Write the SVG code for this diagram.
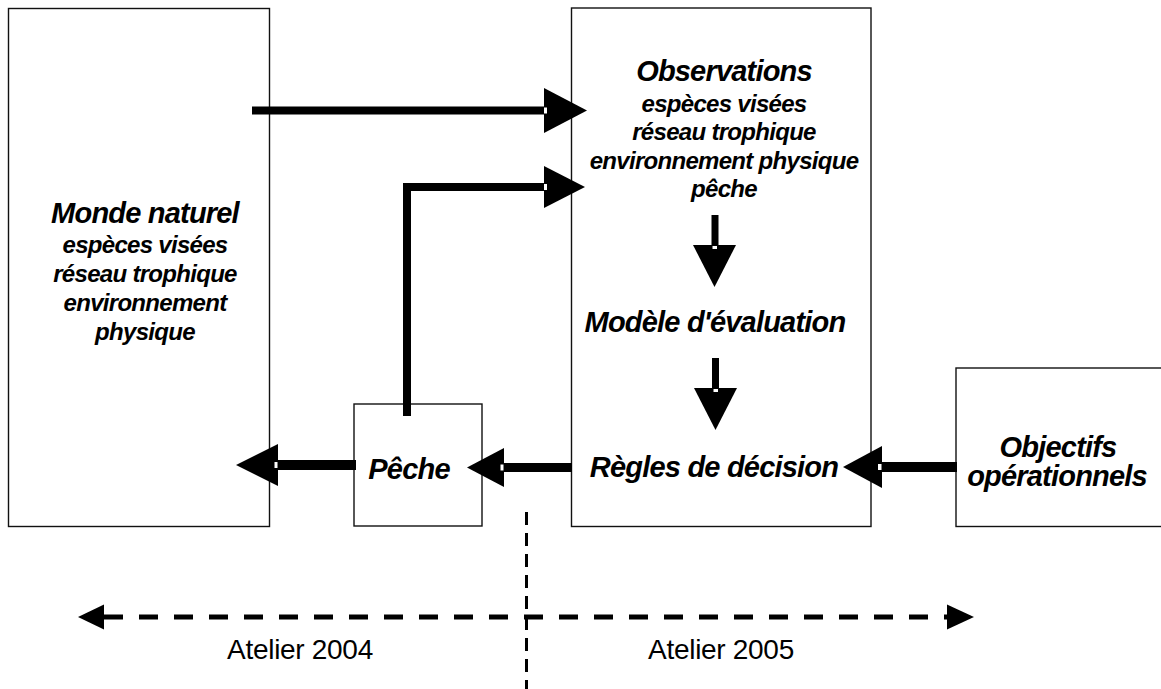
<svg xmlns="http://www.w3.org/2000/svg" width="1161" height="689" viewBox="0 0 1161 689">
<style>
.box{fill:#fff;stroke:#111;stroke-width:1.4}
.t{font-family:"Liberation Sans",Arial,sans-serif;font-weight:bold;font-style:italic;fill:#000;text-anchor:middle}
.h{font-size:29px;letter-spacing:-0.8px}
.s{font-size:24px;letter-spacing:-0.7px}
.a{font-family:"Liberation Sans",Arial,sans-serif;font-size:28px;letter-spacing:-0.3px;fill:#000;text-anchor:middle}
.ln{fill:none;stroke:#000;stroke-linecap:butt;stroke-linejoin:miter}
.hd{fill:#000}
.nt{fill:#fff}
</style>
<rect x="0" y="0" width="1161" height="689" fill="#fff"/>
<g id="monde">
<rect class="box" x="8.5" y="8.5" width="261" height="518"/>
<text class="t h" x="145" y="223">Monde naturel</text>
<text class="t s" x="145" y="253">espèces visées</text>
<text class="t s" x="145" y="282">réseau trophique</text>
<text class="t s" x="145" y="311">environnement</text>
<text class="t s" x="145" y="340">physique</text>
</g>
<g id="peche">
<rect class="box" x="354" y="404" width="128" height="122"/>
<text class="t h" x="409" y="479">Pêche</text>
</g>
<g id="observations">
<rect class="box" x="571.5" y="8" width="299.5" height="518.5"/>
<text class="t h" x="724" y="81">Observations</text>
<text class="t s" x="724" y="112">espèces visées</text>
<text class="t s" x="724" y="140">réseau trophique</text>
<text class="t s" x="724" y="169">environnement physique</text>
<text class="t s" x="724" y="197">pêche</text>
<text class="t h" x="715" y="332">Modèle d'évaluation</text>
<text class="t h" x="714" y="477">Règles de décision</text>
</g>
<g id="objectifs">
<rect class="box" x="956" y="368" width="230" height="158.5"/>
<text class="t h" x="1058" y="457">Objectifs</text>
<text class="t h" x="1057" y="486">opérationnels</text>
</g>
<g id="connectors">
<line class="ln" x1="252" y1="110.5" x2="545" y2="110.5" stroke-width="8"/>
<polygon class="hd" points="544,88 587,110.5 544,133"/>
<rect class="nt" x="544" y="107.5" width="3" height="6"/>
<polyline class="ln" points="407,416 407,187 545,187" stroke-width="8"/>
<polygon class="hd" points="544,166 585,187 544,208"/>
<rect class="nt" x="544" y="184" width="3" height="6"/>
<line class="ln" x1="715" y1="215" x2="715" y2="246" stroke-width="7"/>
<polygon class="hd" points="693,245 736,245 714.5,287"/>
<rect class="nt" x="712.5" y="246" width="4.5" height="3"/>
<line class="ln" x1="715.5" y1="358" x2="715.5" y2="389" stroke-width="7"/>
<polygon class="hd" points="694,388 737,388 715.5,430"/>
<rect class="nt" x="713.5" y="389" width="4.5" height="3"/>
<line class="ln" x1="572" y1="467.5" x2="503" y2="467.5" stroke-width="9"/>
<polygon class="hd" points="504,448 467,467.5 504,487"/>
<rect class="nt" x="500.5" y="464.5" width="3" height="6"/>
<line class="ln" x1="356" y1="465" x2="277" y2="465" stroke-width="10"/>
<polygon class="hd" points="278,444 236,465 278,486"/>
<rect class="nt" x="274.5" y="462" width="3" height="6"/>
<line class="ln" x1="957" y1="467" x2="881" y2="467" stroke-width="10"/>
<polygon class="hd" points="882,446 843,467 882,488"/>
<rect class="nt" x="878" y="464" width="3.5" height="6"/>
<line class="ln" x1="526.5" y1="512" x2="526.5" y2="689" stroke-width="3" stroke-dasharray="13 8"/>
<line class="ln" x1="104" y1="617" x2="947" y2="617" stroke-width="5" stroke-dasharray="19 16"/>
<polygon class="hd" points="104,604.5 78,617 104,629.5"/>
<polygon class="hd" points="947,604.5 974,617 947,629.5"/>
</g>
<g id="labels">
<text class="a" x="300" y="659">Atelier 2004</text>
<text class="a" x="721" y="659">Atelier 2005</text>
</g>
</svg>
